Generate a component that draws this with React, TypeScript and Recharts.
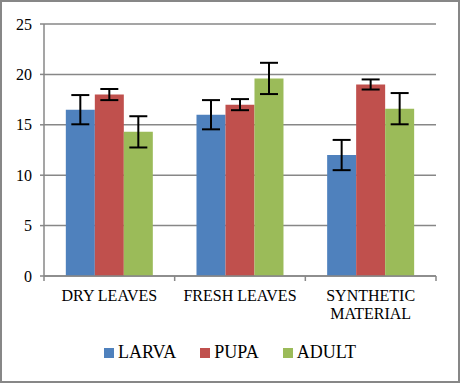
import React from 'react'
import { BarChart, Bar, XAxis, YAxis, CartesianGrid, Legend, ErrorBar, Text } from 'recharts'

const categories = ['DRY LEAVES', 'FRESH LEAVES', 'SYNTHETIC MATERIAL']
const larva = [16.5, 16.0, 12.0]
const larvaErr = [1.45, 1.45, 1.5]
const pupa = [18.0, 17.0, 19.0]
const pupaErr = [0.55, 0.55, 0.5]
const adult = [14.3, 19.6, 16.6]
const adultErr = [1.55, 1.55, 1.55]
const yTicks = [0, 5, 10, 15, 20, 25]

const series = [
  { key: 'larva', name: 'LARVA', color: '#4F81BD' },
  { key: 'pupa', name: 'PUPA', color: '#C0504D' },
  { key: 'adult', name: 'ADULT', color: '#9BBB59' },
]

const data = categories.map((name, i) => ({
  name,
  larva: larva[i],
  larvaErr: larvaErr[i],
  pupa: pupa[i],
  pupaErr: pupaErr[i],
  adult: adult[i],
  adultErr: adultErr[i],
}))

const FONT = "'Liberation Serif', 'DejaVu Serif', serif"
const GRID = '#878787'

const CategoryTick = (props: any) => {
  const { x, y, payload, index } = props
  const half = payload?.offset ?? 65.3
  return (
    <g>
      <line x1={x - half} y1={y - 8} x2={x - half} y2={y - 3} stroke={GRID} strokeWidth={1.5} />
      {index === categories.length - 1 && (
        <line x1={x + half} y1={y - 8} x2={x + half} y2={y - 3} stroke={GRID} strokeWidth={1.5} />
      )}
      <Text
        x={x}
        y={y + 6}
        width={125}
        textAnchor="middle"
        verticalAnchor="start"
        lineHeight={18}
        fill="#000"
        style={{ fontFamily: FONT, fontSize: 16 }}
      >
        {payload.value}
      </Text>
    </g>
  )
}

const renderLegend = () => (
  <div style={{ display: 'flex', justifyContent: 'center', alignItems: 'center', fontFamily: FONT, fontSize: 18, color: '#000', gap: 24 }}>
    {series.map((s) => (
      <div key={s.key} style={{ display: 'flex', alignItems: 'center' }}>
        <span style={{ display: 'inline-block', width: 10, height: 10, background: s.color, marginRight: 4 }} />
        <span>{s.name}</span>
      </div>
    ))}
  </div>
)

export default function App() {
  return (
    <div style={{ position: 'absolute', left: 0, top: 0, width: 460, height: 384, background: '#fff', fontFamily: FONT }}>
      <div style={{ position: 'absolute', left: 0, top: 0, width: 460, height: 383, boxSizing: 'border-box', border: `2px solid ${GRID}` }} />
      <BarChart
        width={460}
        height={384}
        data={data}
        margin={{ top: 24, right: 24, left: 0, bottom: 12 }}
        barCategoryGap="16.7%"
        barGap={0}
        style={{ fontFamily: FONT }}
      >
        <CartesianGrid vertical={false} stroke={GRID} strokeWidth={1.5} />
        <XAxis
          dataKey="name"
          height={66}
          interval={0}
          stroke={GRID}
          strokeWidth={1.5}
          tickLine={false}
          tick={<CategoryTick />}
        />
        <YAxis
          width={44}
          domain={[0, 25]}
          ticks={yTicks}
          interval={0}
          stroke={GRID}
          strokeWidth={1.5}
          tickSize={4}
          tickMargin={8}
          tick={{ fill: '#000', fontSize: 16, style: { fontFamily: FONT } }}
        />
        <Legend
          verticalAlign="bottom"
          height={30}
          content={renderLegend}
          wrapperStyle={{ left: 0, width: 460 }}
        />
        {series.map((s) => (
          <Bar key={s.key} dataKey={s.key} name={s.name} fill={s.color} isAnimationActive={false}>
            <ErrorBar dataKey={`${s.key}Err`} width={9} stroke="#000" strokeWidth={2} />
          </Bar>
        ))}
      </BarChart>
    </div>
  )
}
